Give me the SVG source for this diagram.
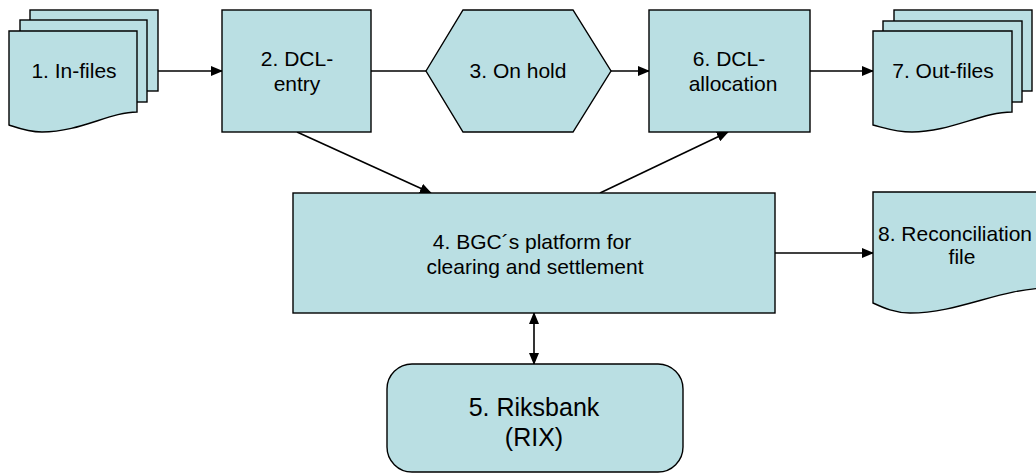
<svg xmlns="http://www.w3.org/2000/svg" width="1036" height="473" viewBox="0 0 1036 473">
<style>
.s{fill:#BADFE3;stroke:#000;stroke-width:1.4}
.t{font-family:"Liberation Sans",Arial,sans-serif;font-size:21px;fill:#000;text-anchor:middle}
.big{font-size:25px}
.c{stroke:#000;stroke-width:1.6;fill:none}
</style>
<defs>
<marker id="ah" markerWidth="12" markerHeight="10" refX="11" refY="5" orient="auto-start-reverse" markerUnits="userSpaceOnUse">
<path d="M0,0 L12,5 L0,10 Z" fill="#000"/>
</marker>
</defs>
<rect width="1036" height="473" fill="#fff"/>
<g id="connectors">
<line class="c" x1="158" y1="71" x2="222" y2="71" marker-end="url(#ah)"/>
<line class="c" x1="371" y1="71" x2="426" y2="71"/>
<line class="c" x1="611" y1="71" x2="649" y2="71" marker-end="url(#ah)"/>
<line class="c" x1="810" y1="71" x2="873" y2="71" marker-end="url(#ah)"/>
<line class="c" x1="297" y1="132" x2="431" y2="193" marker-end="url(#ah)"/>
<line class="c" x1="600" y1="193" x2="728" y2="132" marker-end="url(#ah)"/>
<line class="c" x1="775" y1="253" x2="873" y2="253" marker-end="url(#ah)"/>
<line class="c" x1="534" y1="313" x2="534" y2="364" marker-start="url(#ah)" marker-end="url(#ah)"/>
</g>
<g id="node1">
<rect class="s" x="30" y="10" width="128" height="81"/>
<rect class="s" x="20" y="20" width="127" height="82"/>
<path class="s" d="M9,31 H137 V112 C110,112 80,132 42,132 C28,132 18,128 9,125 Z"/>
<text class="t" x="74" y="78">1. In-files</text>
</g>
<g id="node2">
<rect class="s" x="222" y="10" width="149" height="122"/>
<text class="t" x="297" y="66">2. DCL-</text>
<text class="t" x="297" y="91">entry</text>
</g>
<g id="node3">
<polygon class="s" points="426,71 463,10 573,10 611,71 573,132 463,132"/>
<text class="t" x="518" y="78">3. On hold</text>
</g>
<g id="node6">
<rect class="s" x="649" y="10" width="161" height="122"/>
<text class="t" x="729" y="66">6. DCL-</text>
<text class="t" x="733" y="91">allocation</text>
</g>
<g id="node7">
<rect class="s" x="894" y="10" width="138" height="81"/>
<rect class="s" x="883" y="21" width="139" height="81"/>
<path class="s" d="M873,31 H1012 V112 C982,112 950,132 912,132 C896,132 885,128 873,125 Z"/>
<text class="t" x="943" y="78">7. Out-files</text>
</g>
<g id="node4">
<rect class="s" x="293" y="193" width="482" height="120"/>
<text class="t" x="532" y="249">4. BGC´s platform for</text>
<text class="t" x="535" y="274">clearing and settlement</text>
</g>
<g id="node8">
<path class="s" d="M873,192 H1050 V288 C1000,288 960,313 910,313 C895,313 884,308 873,303 Z"/>
<text class="t" x="955" y="241">8. Reconciliation</text>
<text class="t" x="962" y="264">file</text>
</g>
<g id="node5">
<rect class="s" x="387" y="364" width="296" height="108" rx="25" ry="25"/>
<text class="t big" x="534" y="416">5. Riksbank</text>
<text class="t big" x="534" y="446">(RIX)</text>
</g>
</svg>
